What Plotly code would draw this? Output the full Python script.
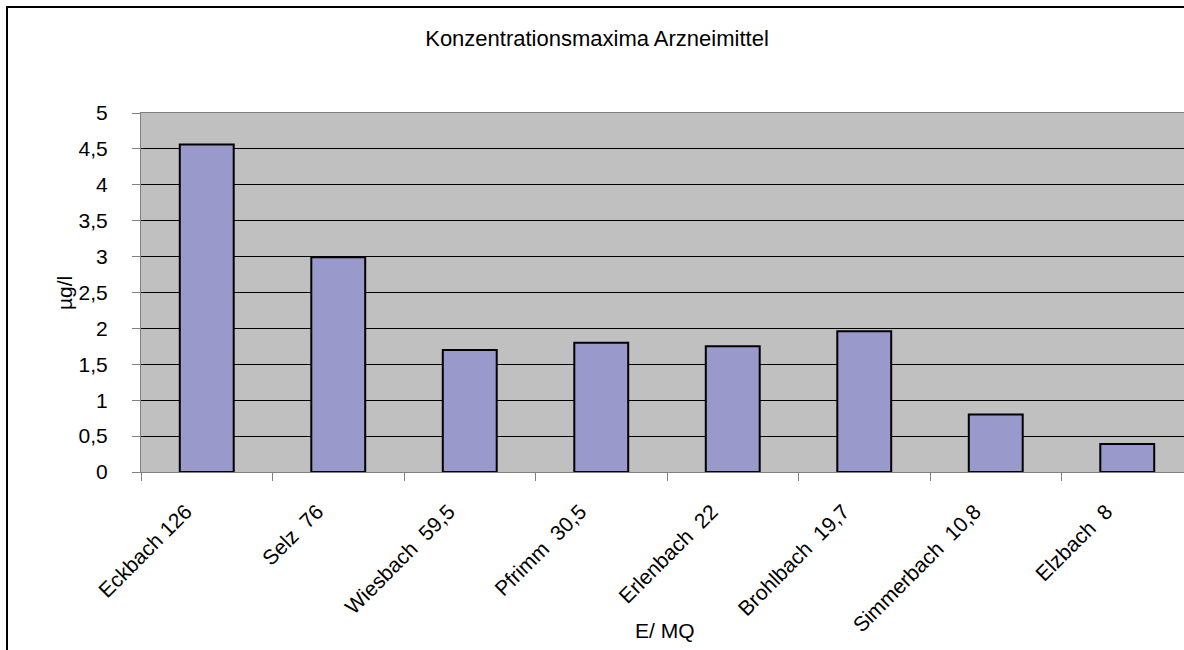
import plotly.graph_objects as go

# Daten
gewaesser = ["Eckbach 126", "Selz\u00a0 76", "Wiesbach\u00a0 59,5", "Pfrimm\u00a0 30,5",
             "Erlenbach\u00a0 22", "Brohlbach\u00a0 19,7", "Simmerbach\u00a0 10,8", "Elzbach\u00a0 8"]
konz_max = [4.56, 2.99, 1.7, 1.8, 1.75, 1.96, 0.8, 0.39]
y_ticks = [0, 0.5, 1, 1.5, 2, 2.5, 3, 3.5, 4, 4.5, 5]

W, H = 1184, 650
PL, PT, PB = 141, 113, 472   # Plotfläche in Pixeln
CAT_PX = 131.5               # Breite einer Kategorie in Pixeln

schrift = "Arial, Liberation Sans, sans-serif"

def px_x(px):
    return (px - PL) / (W - PL)

def px_y(py):
    return (PB - py) / (PB - PT)

fig = go.Figure()

fig.add_trace(go.Bar(
    x=gewaesser,
    y=konz_max,
    width=0.41,
    marker=dict(color="#9999CC", line=dict(color="black", width=2)),
    showlegend=False
))

fig.update_layout(
    width=W, height=H,
    margin=dict(l=PL, r=0, t=PT, b=H - PB),
    paper_bgcolor="white",
    plot_bgcolor="#C0C0C0",
    separators=",.",
    font=dict(family=schrift, size=21, color="black"),
    title=dict(text="Konzentrationsmaxima Arzneimittel", x=597 / W, xanchor="center",
               y=1 - 38 / H, yanchor="middle", font=dict(size=22)),
    bargap=0.59,
)

fig.update_xaxes(
    type="category",
    range=[-0.5, -0.5 + (W - PL) / CAT_PX],
    tickson="boundaries",
    ticks="outside", ticklen=8, tickcolor="#808080",
    tickangle=-45,
    ticklabelstandoff=18,
    ticklabelshift=-21,
    showline=True, linecolor="#808080", linewidth=1, mirror=True,
    showgrid=False,
    tickfont=dict(size=21),
)

fig.update_yaxes(
    range=[0, 5],
    tickvals=y_ticks,
    ticks="outside", ticklen=8, tickcolor="#808080",
    ticklabelstandoff=20,
    showline=True, linecolor="#808080", linewidth=1,
    showgrid=True, gridcolor="black", gridwidth=1,
    zeroline=False,
    tickfont=dict(size=21),
)

# Achsentitel
fig.add_annotation(text="µg/l", xref="paper", yref="paper", x=px_x(64), y=px_y(293),
                   xanchor="center", yanchor="middle",
                   textangle=-90, showarrow=False, font=dict(size=21))
fig.add_annotation(text="E/ MQ", xref="paper", yref="paper", x=px_x(665), y=px_y(630),
                   xanchor="center", yanchor="middle",
                   showarrow=False, font=dict(size=21))

# Rahmen um das Diagramm
fig.add_shape(type="rect", xref="paper", yref="paper",
              x0=px_x(7), y0=px_y(H + 50), x1=px_x(W + 50), y1=px_y(7),
              line=dict(color="black", width=2))

fig.write_html("out.html", config={"displayModeBar": False},
               post_script="document.body.style.margin='0';")
